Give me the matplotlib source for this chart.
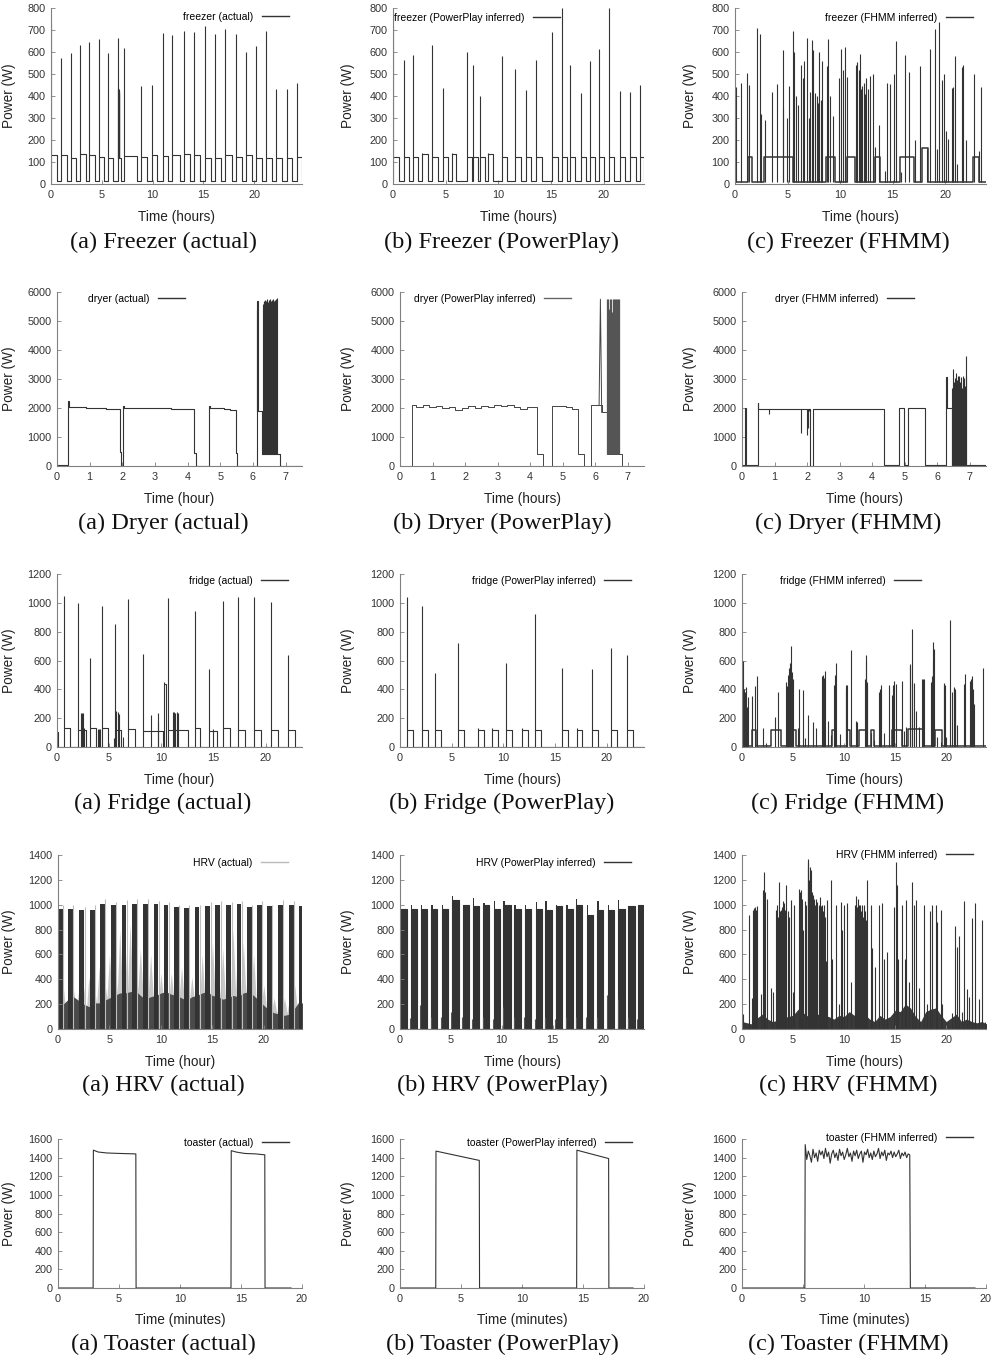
"""Appliance power traces: actual vs PowerPlay vs FHMM (15 panels)"""

import numpy as np
import matplotlib
matplotlib.use("Agg")
import matplotlib.pyplot as plt

plt.rcParams['font.family'] = ['Liberation Sans', 'DejaVu Sans']

INK = '#333333'
LW = 0.8

# ---------------- freezer (hours, W) ----------------
frz_a_on = [0.0, 0.99, 1.94, 2.86, 3.78, 4.70, 5.65, 6.57, 7.19, 8.90, 9.92, 11.0, 11.95,
            13.04, 14.09, 15.11, 16.16, 17.14, 18.16, 19.21, 20.2, 21.15, 22.17, 23.22, 24.2]
frz_a_off = [0.62, 1.54, 2.46, 3.45, 4.33, 5.25, 6.14, 6.86, 8.44, 9.43, 10.48, 11.56, 12.71,
             13.7, 14.68, 15.73, 16.75, 17.8, 18.78, 19.77, 20.76, 21.74, 22.73, 23.71, 24.7]
frz_a_peak = [730, 575, 595, 632, 645, 660, 596, 665, 620, 445, 452, 685, 678,
              697, 692, 718, 683, 705, 680, 600, 627, 697, 432, 430, 460]
frz_a_level = [130, 130, 118, 135, 132, 125, 120, 120, 128, 125, 130, 128, 130,
               135, 130, 120, 120, 130, 125, 130, 120, 120, 118, 118, 125]
frz_a_burst_t = [6.62, 6.64, 6.66, 6.68, 6.70, 6.72, 6.74]
frz_a_burst_h = [435, 430, 425, 420, 430, 415, 410]

frz_p_on = [0.0, 1.02, 1.90, 2.79, 3.71, 4.70, 5.56, 6.98, 7.62, 8.25, 9.05, 10.30, 11.60,
            12.60, 13.60, 15.10, 16.00, 16.80, 17.80, 18.70, 19.50, 20.50, 21.50, 22.50, 23.40]
frz_p_off = [0.60, 1.52, 2.38, 3.30, 4.22, 5.22, 5.98, 7.45, 8.10, 8.72, 9.52, 10.78, 12.10,
             13.10, 14.10, 15.60, 16.50, 17.30, 18.30, 19.20, 20.00, 21.00, 22.00, 23.00, 23.80]
frz_p_peak = [720, 565, 585, 140, 632, 437, 140, 600, 540, 400, 140, 580, 525,
              428, 563, 693, 800, 540, 412, 560, 615, 800, 422, 420, 448]
frz_p_level = [125, 125, 125, 138, 125, 125, 138, 125, 125, 125, 138, 125, 125,
               125, 125, 125, 125, 125, 125, 125, 125, 125, 125, 125, 125]

frz_f_seg_t = [0, 1.2, 1.65, 2.8, 5.5, 8.7, 9.5, 10.7, 11.4, 13.3, 13.8, 15.7, 17.0, 17.8, 18.4, 22.7, 23.2, 23.9]
frz_f_seg_v = [10, 125, 10, 125, 10, 125, 10, 125, 10, 125, 10, 125, 10, 165, 10, 125, 10, 10]
frz_f_spk_t = [0.13, 0.54, 1.18, 1.34, 2.14, 2.39, 2.52, 2.84, 3.57, 3.99, 4.53, 4.59, 4.91, 5.17,
               5.55, 5.65, 5.85, 5.96, 6.28, 6.44, 6.60, 6.83, 7.08, 7.15, 7.30,
               7.46, 7.62, 7.78, 7.88, 8.04, 8.15, 8.26, 8.74, 8.90,
               9.06, 9.31, 9.86, 10.11, 10.27, 10.49, 10.65, 11.48, 11.64, 11.8,
               11.87, 11.95, 12.09, 12.25, 12.4, 12.5, 12.66,
               12.89, 13.14, 13.37, 13.68, 14.26, 14.48, 14.8, 15.12, 15.37, 15.85, 16.17, 16.59,
               17.13, 17.61, 18.25, 18.56, 19.04, 19.27, 19.46, 19.68, 19.9, 20.1, 20.26, 20.64,
               20.73, 20.96, 21.12, 21.6, 21.75, 22.01, 22.71, 23.19, 23.41]
frz_f_spk_h = [440, 460, 505, 450, 710, 680, 320, 290, 420, 455, 345, 610, 300, 445,
               695, 600, 400, 360, 540, 480, 560, 665, 300, 420, 655,
               610, 415, 400, 370, 600, 380, 560, 535, 660,
               400, 310, 480, 615, 520, 625, 485, 540, 555, 520,
               590, 430, 445, 460, 410, 480, 430,
               490, 500, 170, 270, 60, 460, 455, 500, 650, 55, 585, 510,
               200, 535, 160, 615, 705, 160, 735, 475, 500, 240, 205, 435,
               440, 580, 90, 530, 540, 200, 500, 150, 440]

# ---------------- dryer (hours, W) ----------------
dry_a_t = [0, 0.35, 0.37, 0.9, 1.5, 1.88, 1.92, 1.97, 2.03, 2.05, 2.5, 3.0, 3.5, 3.9, 4.18,
           4.24, 4.66, 4.68, 5.1, 5.3, 5.47, 5.52, 6.12, 6.14, 6.28, 6.76, 6.82, 7.5]
dry_a_y = [20, 2230, 2030, 2000, 1970, 1960, 480, 0, 2080, 2010, 1990, 2010, 1980, 1950, 450,
           0, 2060, 1990, 1950, 1920, 440, 0, 5700, 1900, 400, 430, 0, 0]
dry_a_burst = [5600, 5700, 5650, 5720, 5680, 5750, 5700, 5650, 5730, 5700,
               5760, 5690, 5720, 5700, 5750, 5680, 5740, 5760, 5700, 5780]

dry_p_t = [0, 0.36, 0.5, 0.7, 0.9, 1.1, 1.3, 1.5, 1.7, 1.9, 2.1, 2.3, 2.5, 2.7, 2.9, 3.1, 3.3,
           3.5, 3.7, 3.9, 4.2, 4.39, 4.66, 4.9, 5.1, 5.3, 5.46, 5.65, 5.87, 6.2, 6.35, 6.76, 6.81, 7.5]
dry_p_y = [0, 2100, 2050, 2100, 2050, 2080, 2000, 2050, 1940, 2000, 2080, 2000, 2060, 2050, 2100,
           2080, 2100, 2050, 1980, 2050, 430, 0, 2080, 2060, 2050, 1960, 430, 0, 2100, 1850, 430,
           430, 0, 0]
dry_p_burst = [5750, 5750, 5400, 5750, 5750, 5300, 5750, 5750, 5750, 5500, 5750, 5750, 5750, 5750]

dry_f_t = [0, 0.1, 0.13, 0.48, 0.5, 2.08, 2.18, 4.35, 4.82, 4.97, 5.1, 5.62, 6.28, 6.3, 6.45, 6.92, 7.5]
dry_f_y = [20, 2000, 20, 2180, 1980, 0, 1980, 20, 1990, 20, 2000, 20, 3080, 2000, 0, 20, 20]
dry_f_dip_t = [0.82, 1.82, 2.0, 2.03, 2.05]
dry_f_dip_h = [1780, 1150, 1080, 1300, 1900]
dry_f_burst = [2700, 3330, 2900, 3050, 2600, 3200, 2950, 3100, 2750, 3120,
               2880, 3080, 2700, 3100, 2800, 3050, 2750, 3100, 3780]

# ---------------- fridge (hours, W) ----------------
fr_a_on = [0.0, 0.68, 2.06, 3.19, 4.32, 5.57, 6.83, 8.28, 10.24, 10.69, 13.2, 14.62, 15.97,
           17.36, 18.94, 20.55, 22.16]
fr_a_off = [0.05, 1.25, 2.75, 3.72, 4.85, 6.15, 7.45, 10.2, 10.45, 12.6, 13.75, 15.3, 16.6,
            18.0, 19.55, 21.2, 22.8]
fr_a_level = [105, 130, 115, 130, 130, 115, 125, 112, 440, 120, 135, 112, 130, 120, 118, 118, 118]
fr_a_peak = [105, 1045, 1000, 615, 980, 855, 1025, 645, 450, 1035, 940, 540, 1010, 1040, 1040, 1005, 640]
fr_a_small_t = [2.3, 2.4, 2.5, 2.6, 3.95, 4.05, 4.15, 5.44, 5.65, 5.82, 5.95, 6.3, 9.05, 9.7, 9.73,
                11.1, 11.25, 11.35, 11.5, 11.6, 14.95]
fr_a_small_h = [235, 235, 235, 130, 125, 125, 125, 65, 250, 240, 230, 70, 225, 235, 170,
                240, 240, 235, 240, 235, 125]

fr_p_on = [0.72, 2.11, 3.41, 5.59, 7.54, 8.88, 10.24, 11.8, 13.1, 15.7, 17.1, 18.6, 20.4, 22.0]
fr_p_off = [1.3, 2.7, 3.95, 6.15, 8.1, 9.45, 10.8, 12.35, 13.65, 16.25, 17.65, 19.15, 20.95, 22.55]
fr_p_peak = [1040, 980, 510, 720, 130, 130, 580, 130, 925, 550, 130, 540, 690, 635]
fr_p_level = [118] * len(fr_p_on)

fr_f_seg_t = [0, 1.0, 1.4, 2.8, 3.8, 4.6, 5.3, 8.8, 9.2, 10.3, 10.6, 11.5, 12.1, 12.6, 12.9,
              14.7, 15.7, 16.3, 17.8, 18.9, 19.6, 23.9]
fr_f_seg_v = [5, 120, 5, 120, 5, 120, 5, 120, 5, 120, 5, 120, 5, 120, 5, 120, 5, 125, 5, 115, 5, 5]
fr_f_spk_t = [0.07, 0.15, 0.23, 0.3, 0.39, 0.45, 0.55, 0.98, 1.3, 1.47, 2.02, 2.35, 3.26, 3.49,
              4.3, 4.45, 4.55, 4.63, 4.69, 4.79, 4.85, 4.9, 4.95, 5.44, 5.6, 5.93, 6.19, 6.51,
              6.91, 7.23, 7.88, 7.98, 8.03, 8.06, 8.11, 8.47, 8.7, 9.02, 9.1, 9.19, 9.61, 10.16,
              10.2, 10.3, 10.65, 11.14, 11.24, 12.05, 12.1, 12.18, 12.2, 12.28, 12.61, 12.93,
              13.42, 13.5, 13.58, 13.91, 14.4, 14.72, 14.8, 14.89, 15.11, 15.7, 15.86, 16.03,
              16.42, 16.5, 16.61, 16.7, 16.84, 17.07, 17.33, 17.65, 17.7, 17.75, 17.82, 18.47,
              18.63, 18.7, 18.73, 18.83, 19.12, 19.45, 19.77, 19.8, 19.87, 20.03, 20.42, 20.59,
              20.75, 20.8, 20.85, 20.91, 21.07, 21.73, 21.82, 22.38, 22.45, 22.54, 22.6, 22.7, 23.58]
fr_f_spk_h = [600, 300, 400, 380, 415, 280, 350, 355, 420, 490, 135, 25, 205, 380,
              450, 420, 500, 550, 580, 700, 450, 520, 470, 130, 400, 395, 60, 220,
              170, 130, 490, 500, 480, 470, 530, 180, 85, 430, 500, 580, 90, 430,
              400, 430, 670, 180, 175, 470, 600, 640, 450, 420, 100, 50,
              380, 400, 430, 100, 430, 360, 430, 455, 440, 460, 110, 140,
              575, 560, 820, 450, 445, 250, 140, 470, 460, 470, 470, 450,
              490, 600, 730, 680, 70, 35, 445, 420, 430, 70, 880, 380,
              415, 410, 380, 400, 150, 440, 505, 455, 470, 490, 400, 300, 550]

# ---------------- HRV (hours, W) ----------------
hrv_grid = np.arange(0, 24.01, 0.5)
hrv_fine = np.arange(0, 24.01, 0.25)
hrv_a_start = [0.03, 1.0, 2.08, 3.12, 4.09, 5.16, 6.2, 7.18, 8.25, 9.29, 10.26, 11.3, 12.27,
               13.28, 14.32, 15.29, 16.36, 17.34, 18.38, 19.35, 20.32, 21.4, 22.44, 23.41]
hrv_a_level = [965, 965, 960, 960, 1005, 1000, 1000, 1005, 1005, 1005, 1000, 980, 975,
               980, 990, 1000, 995, 1005, 985, 995, 990, 995, 1000, 990]
hrv_a_gtop = [1000, 1000, 980, 1000, 1050, 1020, 1040, 1050, 1050, 1030, 1020, 1000, 1000,
              1000, 1020, 1030, 1020, 1030, 1000, 1030, 1000, 1040, 1030, 1030]
hrv_a_dark = [150, 200, 240, 260, 230, 200, 180, 210, 210, 230, 250, 270, 290, 290, 300, 310,
              270, 240, 260, 270, 290, 300, 280, 270, 250, 230, 260, 270, 290, 300, 270, 260,
              240, 250, 270, 260, 290, 300, 270, 230, 190, 150, 130, 120, 110, 120, 170, 230, 180]
hrv_a_grey = [300, 120, 350, 150, 280, 130, 320, 160, 300, 140,
              330, 150, 420, 180, 350, 200, 500, 220, 400, 250,
              600, 250, 650, 280, 800, 300, 700, 300, 850, 320,
              800, 300, 650, 280, 500, 250, 600, 260, 420, 230,
              450, 240, 400, 230, 450, 250, 420, 240, 500, 250,
              380, 220, 420, 230, 400, 220, 600, 260, 500, 240,
              700, 280, 600, 260, 650, 260, 550, 250, 800, 300,
              750, 280, 700, 280, 650, 260, 600, 240, 450, 200,
              350, 170, 300, 150, 250, 130, 220, 120, 250, 130,
              250, 140, 350, 160, 300, 150, 250]

hrv_p_on = [0.0, 1.07, 2.05, 3.09, 4.13, 5.11, 6.18, 7.15, 8.2, 9.2, 10.18, 11.25, 12.26,
            13.33, 14.31, 15.35, 16.36, 17.33, 18.37, 19.41, 20.42, 21.46, 22.44, 23.41]
hrv_p_off = [0.72, 1.63, 2.67, 3.67, 4.72, 5.79, 6.76, 7.8, 8.78, 9.82, 10.89, 11.87, 12.91,
             13.92, 14.96, 15.93, 16.98, 17.95, 18.96, 20.0, 21.07, 22.11, 23.09, 23.9]
hrv_p_first = [1000, 995, 1000, 1000, 1000, 1070, 1000, 1055, 1015, 1030, 1030, 1000, 1000,
               1020, 1030, 1000, 1000, 1045, 995, 1030, 995, 1035, 985, 1000]
hrv_p_level = [965, 965, 965, 965, 965, 1035, 1000, 990, 1000, 965, 1000, 965, 965,
               965, 960, 990, 965, 1000, 920, 960, 960, 965, 990, 1000]
hrv_p_gap = [270, 90, 190, 100, 100, 140, 100, 80, 100, 80, 180, 100, 100,
             80, 100, 80, 100, 100, 100, 100, 270, 240, 100, 80]

hrv_f_floor = [60, 50, 40, 90, 120, 80, 60, 70, 90, 100, 110, 160, 130, 100, 110, 120, 110,
               100, 80, 110, 100, 140, 110, 140, 120, 80, 60, 110, 80, 100, 150, 140, 200, 170,
               100, 60, 140, 160, 170, 110, 60, 90, 120, 60, 80, 60, 50, 60, 40]
hrv_f_spk_t = [0.13, 0.72, 0.98, 1.11, 1.2, 1.27, 1.35, 1.43, 1.86, 2.02, 2.12, 2.28, 2.41,
               2.83, 3.0, 3.32, 3.42, 3.5, 3.65, 3.7, 3.81, 3.9, 3.97, 4.05, 4.14, 4.2, 4.3,
               4.46, 4.6, 4.79, 4.95, 5.11, 5.6, 5.65, 5.77, 5.85, 5.99, 6.19, 6.3, 6.42, 6.45,
               6.51, 6.58, 6.64, 6.7, 6.74, 6.85, 6.91, 7.0, 7.07, 7.15, 7.23, 7.3, 7.39, 7.5,
               7.62, 7.7, 7.82, 7.95, 8.05, 8.1, 8.21, 8.37, 8.7, 8.86, 9.19, 9.51, 9.67, 9.84,
               10.0, 10.33, 10.65, 11.07, 11.1, 11.21, 11.3, 11.4, 11.5, 11.56, 11.7, 11.79,
               11.85, 11.95, 12.05, 12.12, 12.28, 12.61, 12.77, 13.03, 13.42, 13.68, 13.91,
               14.23, 14.89, 15.05, 15.15, 15.31, 15.7, 15.96, 16.09, 16.35, 16.61, 16.84,
               17.07, 17.33, 17.82, 18.14, 18.4, 18.63, 18.96, 19.12, 19.45, 19.61, 20.59,
               20.91, 21.07, 21.24, 21.56, 21.73, 22.05, 22.28, 22.54, 22.87, 23.19, 23.52, 23.84]
hrv_f_spk_h = [120, 920, 250, 960, 970, 980, 960, 990, 280, 1120, 1260, 1100, 1050,
               330, 300, 960, 1000, 900, 1180, 950, 960, 980, 1030, 920, 1010, 960, 1160,
               950, 900, 1040, 300, 1000, 1130, 1100, 1120, 1050, 800, 1030, 1000, 1370, 1300,
               1340, 1200, 1300, 1250, 1280, 1100, 1080, 1050, 1050, 1000, 1050, 980, 1020, 1000,
               1060, 990, 1000, 950, 1000, 900, 550, 1040, 1200, 560, 1000, 200, 1020, 800,
               1000, 1010, 380, 900, 1000, 1070, 980, 1050, 1000, 1000, 950, 1000,
               900, 1000, 950, 880, 1200, 1000, 650, 500, 1000, 1010, 560,
               620, 980, 1340, 1160, 560, 1000, 560, 1040, 380, 1180, 1000,
               1040, 330, 1000, 200, 950, 1000, 1000, 860, 960, 200, 130,
               830, 660, 750, 140, 1030, 320, 260, 890, 1010, 240, 880, 60]

# ---------------- toaster (minutes, W) ----------------
toa_a_t = [0, 2.88, 2.9, 3.3, 4.0, 5.0, 6.38, 6.4, 14.18, 14.2, 14.6, 15.3, 16.2, 16.95, 16.97, 19.1]
toa_a_y = [0, 0, 1480, 1460, 1450, 1445, 1440, 0, 0, 1475, 1460, 1445, 1440, 1430, 0, 0]
toa_p_t = [0, 2.93, 2.95, 6.5, 6.52, 14.48, 14.5, 17.1, 17.12, 19.1]
toa_p_y = [0, 0, 1470, 1370, 0, 0, 1480, 1390, 0, 0]
toa_f_top = [1540, 1380, 1470, 1420, 1350, 1490, 1400, 1450, 1360, 1480, 1430, 1470, 1390,
             1500, 1410, 1460, 1340, 1440, 1480, 1400, 1450, 1370, 1490, 1420, 1460, 1380,
             1430, 1500, 1410, 1450, 1360, 1470, 1420, 1480, 1390, 1440, 1470, 1350, 1460,
             1430, 1490, 1400, 1450, 1380, 1470, 1410, 1440, 1500, 1390, 1460, 1420, 1480,
             1370, 1450, 1430, 1470, 1400, 1460, 1410, 1440, 1480, 1390, 1450, 1420, 1460,
             1400, 1440, 1430]

# ---------------- layout (pixels of a 999x1360 canvas) ----------------
W, H = 999, 1360
row_tb = [(8, 184), (292, 466), (574, 747), (855, 1029), (1139, 1288)]
row_left = [[51, 393, 735], [57, 400, 742], [57, 400, 742], [58, 400, 742], [58, 400, 742]]
col_right = [302, 644, 986]
ylab_x = [16, 355, 697]
xlab_y = [210, 492, 773, 1055, 1313]
cap_x = [163, 502, 848]
cap_y = [242, 523, 803, 1085, 1344]

fig = plt.figure(figsize=(W / 100, H / 100), dpi=100)
axes = [[None] * 3 for _ in range(5)]
geo = {}
for r in range(5):
    top, bot = row_tb[r]
    for c in range(3):
        l, rr = row_left[r][c], col_right[c]
        ax = fig.add_axes([l / W, 1 - bot / H, (rr - l) / W, (bot - top) / H])
        axes[r][c] = ax
        geo[(r, c)] = (l, rr, top, bot)


def style(ax, r, c, ylim, ystep, xlim, xticks, xlabel):
    l, rr, top, bot = geo[(r, c)]
    ax.set_xlim(*xlim)
    ax.set_ylim(0, ylim)
    ax.set_yticks(np.arange(0, ylim + 1, ystep))
    ax.set_xticks(xticks)
    for s in ['top', 'right']:
        ax.spines[s].set_visible(False)
    for s in ['left', 'bottom']:
        ax.spines[s].set_color('#808080')
        ax.spines[s].set_linewidth(0.8)
    ax.tick_params(direction='in', length=3, width=0.6, color='#808080',
                   labelsize=7.8, labelcolor='#333333', pad=4)
    ax.set_ylabel('Power (W)', fontsize=9.8, color='#222222')
    ax.set_xlabel(xlabel, fontsize=9.8, color='#222222')
    ax.yaxis.set_label_coords((ylab_x[c] - l) / (rr - l), 0.5)
    ax.xaxis.set_label_coords(0.5, (bot - xlab_y[r]) / (bot - top))


def legend(ax, r, c, label, x_end, y_px, color=INK):
    l, rr, top, bot = geo[(r, c)]
    h = plt.Line2D([], [], color=color, lw=1.0)
    ax.legend([h], [label], loc='center right',
              bbox_to_anchor=((x_end - l) / (rr - l), (bot - y_px) / (bot - top)),
              frameon=False, markerfirst=False, fontsize=7.5, handlelength=2.6,
              handletextpad=0.8, borderpad=0, borderaxespad=0)


def cycle_steps(on, off, level, base, t_end):
    t, y = [0.0], [base]
    for s, e, lv in zip(on, off, level):
        t += [s, e]
        y += [lv, base]
    t.append(t_end)
    y.append(base)
    return t, y


def burst_lines(ax, t0, t1, lo, peaks, color=INK, lw=LW):
    ts = np.linspace(t0, t1, len(peaks))
    ax.vlines(ts, lo, peaks, color=color, lw=lw)


hr_ticks = [0, 5, 10, 15, 20]

# ---- row 0 : freezer ----
ax = axes[0][0]
t, y = cycle_steps(frz_a_on, frz_a_off, frz_a_level, 12, 24.7)
ax.plot(t, y, drawstyle='steps-post', color=INK, lw=LW)
ax.vlines(frz_a_on, frz_a_level, frz_a_peak, color=INK, lw=LW)
ax.vlines(frz_a_burst_t, 120, frz_a_burst_h, color=INK, lw=LW)
style(ax, 0, 0, 800, 100, (0, 24.7), hr_ticks, 'Time (hours)')
legend(ax, 0, 0, 'freezer (actual)', 289, 17)

ax = axes[0][1]
t, y = cycle_steps(frz_p_on, frz_p_off, frz_p_level, 12, 23.8)
ax.plot(t, y, drawstyle='steps-post', color=INK, lw=LW)
ax.vlines(frz_p_on, frz_p_level, frz_p_peak, color=INK, lw=LW)
style(ax, 0, 1, 800, 100, (0, 23.8), hr_ticks, 'Time (hours)')
legend(ax, 0, 1, 'freezer (PowerPlay inferred)', 560, 18)

ax = axes[0][2]
ax.plot(frz_f_seg_t, frz_f_seg_v, drawstyle='steps-post', color=INK, lw=1.1)
ax.vlines(frz_f_spk_t, 10, frz_f_spk_h, color=INK, lw=LW)
style(ax, 0, 2, 800, 100, (0, 23.9), hr_ticks, 'Time (hours)')
legend(ax, 0, 2, 'freezer (FHMM inferred)', 973, 18)

# ---- row 1 : dryer ----
ax = axes[1][0]
ax.plot(dry_a_t, dry_a_y, drawstyle='steps-post', color=INK, lw=LW)
ax.vlines([6.13], 1900, 5380, color=INK, lw=LW)
burst_lines(ax, 6.30, 6.74, 400, dry_a_burst)
style(ax, 1, 0, 6000, 1000, (0, 7.5), range(8), 'Time (hour)')
legend(ax, 1, 0, 'dryer (actual)', 185, 299)

ax = axes[1][1]
ax.plot(dry_p_t, dry_p_y, drawstyle='steps-post', color='#444444', lw=0.7)
ax.plot([6.12, 6.16, 6.2], [2100, 5750, 1850], color='#444444', lw=0.7)
burst_lines(ax, 6.36, 6.74, 430, dry_p_burst, color='#555555', lw=0.9)
style(ax, 1, 1, 6000, 1000, (0, 7.5), range(8), 'Time (hours)')
legend(ax, 1, 1, 'dryer (PowerPlay inferred)', 571, 299, color='#666666')

ax = axes[1][2]
ax.plot(dry_f_t, dry_f_y, drawstyle='steps-post', color=INK, lw=LW)
ax.vlines(dry_f_dip_t, dry_f_dip_h, 1980, color=INK, lw=LW)
burst_lines(ax, 6.47, 6.9, 0, dry_f_burst)
style(ax, 1, 2, 6000, 1000, (0, 7.5), range(8), 'Time (hours)')
legend(ax, 1, 2, 'dryer (FHMM inferred)', 914, 299)

# ---- row 2 : fridge ----
ax = axes[2][0]
t, y = cycle_steps(fr_a_on, fr_a_off, fr_a_level, 0, 23.5)
ax.plot(t, y, drawstyle='steps-post', color=INK, lw=LW)
ax.vlines(fr_a_on, fr_a_level, fr_a_peak, color=INK, lw=LW)
ax.vlines(fr_a_small_t, 0, fr_a_small_h, color=INK, lw=LW)
style(ax, 2, 0, 1200, 200, (0, 23.5), hr_ticks, 'Time (hour)')
legend(ax, 2, 0, 'fridge (actual)', 288, 581)

ax = axes[2][1]
t, y = cycle_steps(fr_p_on, fr_p_off, fr_p_level, 0, 23.6)
ax.plot(t, y, drawstyle='steps-post', color=INK, lw=LW)
ax.vlines(fr_p_on, fr_p_level, fr_p_peak, color=INK, lw=LW)
style(ax, 2, 1, 1200, 200, (0, 23.6), hr_ticks, 'Time (hours)')
legend(ax, 2, 1, 'fridge (PowerPlay inferred)', 631, 581)

ax = axes[2][2]
ax.plot(fr_f_seg_t, fr_f_seg_v, drawstyle='steps-post', color=INK, lw=1.1)
ax.vlines(fr_f_spk_t, 0, fr_f_spk_h, color=INK, lw=LW)
style(ax, 2, 2, 1200, 200, (0, 23.9), hr_ticks, 'Time (hours)')
legend(ax, 2, 2, 'fridge (FHMM inferred)', 921, 581)

# ---- row 3 : HRV ----
ax = axes[3][0]
ax.fill_between(hrv_fine, 0, hrv_a_grey, color='#c8c8c8', lw=0)
ax.fill_between(hrv_grid, 0, hrv_a_dark, color='#4a4a4a', lw=0)
ax.bar(hrv_a_start, hrv_a_level, width=0.45, align='edge', color='#333333', lw=0)
ax.vlines(np.array(hrv_a_start) + 0.5, 0, hrv_a_gtop, color='#bdbdbd', lw=0.8)
style(ax, 3, 0, 1400, 200, (0, 23.7), hr_ticks, 'Time (hour)')
legend(ax, 3, 0, 'HRV (actual)', 288, 863, color='#bbbbbb')

ax = axes[3][1]
t, y = cycle_steps(hrv_p_on, hrv_p_off, hrv_p_level, 0, 24.0)
ax.plot(t, y, drawstyle='steps-post', color=INK, lw=LW)
ax.bar(hrv_p_on, hrv_p_level, width=np.array(hrv_p_off) - np.array(hrv_p_on),
       align='edge', color='#333333', lw=0)
ax.bar(hrv_p_on, hrv_p_first, width=0.12, align='edge', color='#333333', lw=0)
ax.vlines(np.array(hrv_p_on) - 0.06, 0, hrv_p_gap, color='#555555', lw=0.8)
style(ax, 3, 1, 1400, 200, (0, 24.0), hr_ticks, 'Time (hours)')
legend(ax, 3, 1, 'HRV (PowerPlay inferred)', 631, 863)

ax = axes[3][2]
ax.fill_between(hrv_grid, 0, hrv_f_floor, color='#3a3a3a', lw=0)
ax.vlines(hrv_f_spk_t, 0, hrv_f_spk_h, color=INK, lw=LW)
style(ax, 3, 2, 1400, 200, (0, 23.9), hr_ticks, 'Time (hours)')
legend(ax, 3, 2, 'HRV (FHMM inferred)', 973, 855)

# ---- row 4 : toaster ----
ax = axes[4][0]
ax.plot(toa_a_t, toa_a_y, color=INK, lw=LW)
style(ax, 4, 0, 1600, 200, (0, 20), [0, 5, 10, 15, 20], 'Time (minutes)')
legend(ax, 4, 0, 'toaster (actual)', 289, 1143)

ax = axes[4][1]
ax.plot(toa_p_t, toa_p_y, color=INK, lw=LW)
style(ax, 4, 1, 1600, 200, (0, 20), [0, 5, 10, 15, 20], 'Time (minutes)')
legend(ax, 4, 1, 'toaster (PowerPlay inferred)', 632, 1143)

ax = axes[4][2]
ft = np.linspace(5.18, 13.75, len(toa_f_top))
ax.plot([0, 5.15] + list(ft) + [13.8, 19.1], [0, 0] + toa_f_top + [0, 0], color=INK, lw=LW)
style(ax, 4, 2, 1600, 200, (0, 20), [0, 5, 10, 15, 20], 'Time (minutes)')
legend(ax, 4, 2, 'toaster (FHMM inferred)', 973, 1138)

# ---- captions ----
names = ['Freezer', 'Dryer', 'Fridge', 'HRV', 'Toaster']
kinds = [('a', 'actual'), ('b', 'PowerPlay'), ('c', 'FHMM')]
for r, name in enumerate(names):
    for c, (letter, kind) in enumerate(kinds):
        fig.text(cap_x[c] / W, 1 - cap_y[r] / H, f'({letter}) {name} ({kind})',
                 ha='center', va='center', fontsize=17.5, color='#111111',
                 family=['Liberation Serif', 'DejaVu Serif'])

fig.savefig('out.png', dpi=100)
